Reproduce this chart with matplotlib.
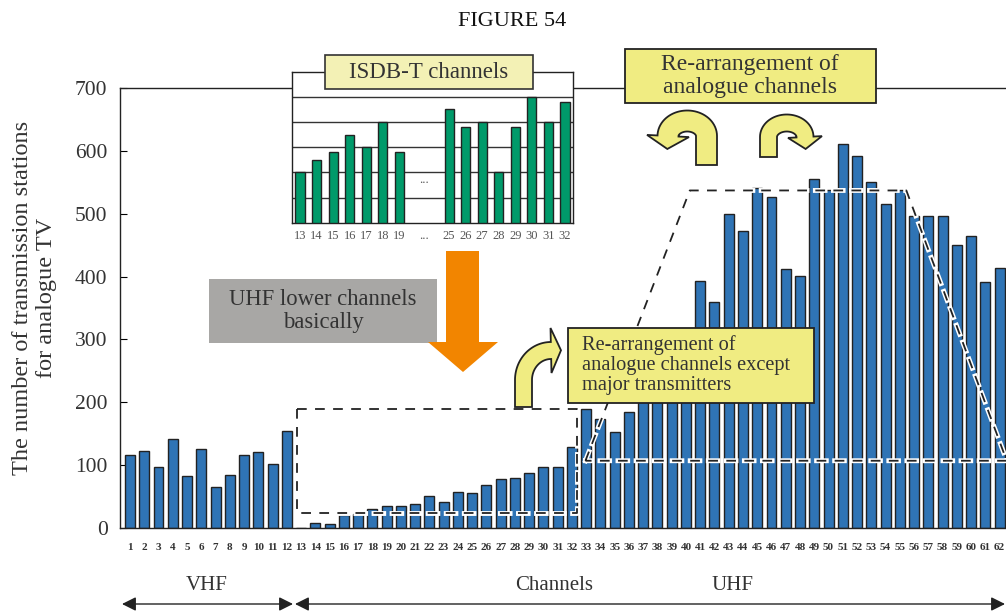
import numpy as np
import matplotlib
matplotlib.use('Agg')
import matplotlib.pyplot as plt
from matplotlib.patches import Rectangle, Polygon, FancyArrowPatch

plt.rcParams['font.family'] = ['Liberation Serif', 'DejaVu Serif']
plt.rcParams['lines.scale_dashes'] = False

W, H = 1006, 611

# number of analogue TV transmitting stations per channel
channels = np.arange(1, 63)
stations = [116, 123, 97, 142, 83, 126, 66, 85, 116, 121, 102, 155,
            0, 8, 6, 21, 23, 31, 35, 35, 38, 51, 42, 57, 55, 69, 78, 80,
            88, 97, 97, 129, 190, 173, 153, 185, 240, 300, 250, 280,
            393, 360, 500, 472, 541, 527, 412, 401, 556, 538, 611, 592,
            551, 515, 537, 496, 496, 496, 451, 464, 391, 413]

# ISDB-T channel allocation (inset)
isdb_labels = ['13', '14', '15', '16', '17', '18', '19',
               '25', '26', '27', '28', '29', '30', '31', '32']
isdb_pos = [0, 1, 2, 3, 4, 5, 6, 9, 10, 11, 12, 13, 14, 15, 16]
isdb_height = [2.0, 2.5, 2.8, 3.5, 3.0, 4.0, 2.8,
               4.5, 3.8, 4.0, 2.0, 3.8, 5.0, 4.0, 4.8]

# dashed outlines (channel, stations)
lower_x = [12.7, 32.35, 32.35, 12.7, 12.7]
lower_y = [190, 190, 24, 24, 190]
upper_x = [32.95, 40.27, 55.46, 62.5, 32.95]
upper_y = [107, 537, 537, 107, 107]

BLUE = '#2f74b5'
GREEN = '#009a6a'
YELLOW = '#f0ec82'
TXT = '#333333'


def px(x, y):
    return (x / W, 1 - y / H)


fig = plt.figure(figsize=(W / 100, H / 100), dpi=100)

ax = fig.add_axes([120 / W, 1 - 528 / H, (W - 120) / W, 440 / H])
ax.bar(channels, stations, width=0.7, color=BLUE, edgecolor='#222222',
       linewidth=1.0, zorder=2)
ax.set_xlim(0.3, 62.45)
ax.set_ylim(0, 700)
ax.spines['right'].set_visible(False)
for s in ['left', 'bottom', 'top']:
    ax.spines[s].set_color('#222222')
    ax.spines[s].set_linewidth(1.0)
ax.set_yticks(np.arange(0, 701, 100))
ax.tick_params(axis='y', direction='in', length=5, labelsize=15.5,
               pad=9, labelcolor=TXT)
ax.set_xticks(channels)
ax.set_xticklabels([str(c) for c in channels], fontsize=8, fontweight='bold',
                   color=TXT)
ax.tick_params(axis='x', length=0, pad=11)

for xs, ys in [(lower_x, lower_y), (upper_x, upper_y)]:
    ax.plot(xs, ys, color='white', lw=3.5, dashes=(7, 6),
            dash_capstyle='projecting', zorder=3)
    ax.plot(xs, ys, color='#222222', lw=1.3, dashes=(7, 6),
            dash_capstyle='butt', zorder=4)

# inset with ISDB-T channels
iax = fig.add_axes([291.7 / W, 1 - 222.7 / H, (573.3 - 291.7) / W, 151 / H])
iax.bar(isdb_pos, isdb_height, width=0.55, color=GREEN, edgecolor='#222222',
        linewidth=1.0, zorder=3)
iax.set_xlim(-0.5, 16.5)
iax.set_ylim(0, 6)
iax.set_yticks(range(1, 6))
iax.set_yticklabels([])
iax.yaxis.grid(True, color='#333333', lw=1.0)
iax.set_xticks(isdb_pos + [7.5])
iax.set_xticklabels(isdb_labels + ['...'], fontsize=9, color='#555555')
iax.tick_params(length=0, pad=5)
iax.text(7.5, 1.7, '...', ha='center', va='center', fontsize=9,
         color='#555555')
for s in iax.spines.values():
    s.set_color('#222222')
    s.set_linewidth(1.0)

# labels
fig.text(512 / W, 1 - 22 / H, 'FIGURE 54', ha='center', va='center',
         fontsize=16, color='#111111')
fig.text(34.5 / W, 1 - 298 / H,
         'The number of transmission stations\nfor analogue TV',
         rotation=90, ha='center', va='center', fontsize=17.5,
         linespacing=1.2, color=TXT)
fig.text(207 / W, 1 - 585 / H, 'VHF', ha='center', va='center',
         fontsize=15, color=TXT)
fig.text(554 / W, 1 - 585 / H, 'Channels', ha='center', va='center',
         fontsize=15, color=TXT)
fig.text(732 / W, 1 - 585 / H, 'UHF', ha='center', va='center',
         fontsize=15, color=TXT)

for x0, x1 in [(122, 293), (295, 1005)]:
    fig.add_artist(FancyArrowPatch(px(x0, 604), px(x1, 604),
                                   arrowstyle='<|-|>,head_length=0.6,head_width=0.3',
                                   mutation_scale=14, lw=1.0, color='#222222',
                                   shrinkA=0, shrinkB=0,
                                   transform=fig.transFigure))


def box(x0, y0, x1, y1, **kw):
    fig.add_artist(Rectangle(px(x0, y1), (x1 - x0) / W, (y1 - y0) / H,
                             transform=fig.transFigure, **kw))


def thick_arrow(pts, width, head_half, head_len, **kw):
    pts = np.asarray(pts, float)
    d = np.gradient(pts, axis=0)
    d /= np.linalg.norm(d, axis=1)[:, None]
    n = np.column_stack([-d[:, 1], d[:, 0]])
    left = pts + n * width / 2
    right = pts - n * width / 2
    end, t, nn = pts[-1], d[-1], n[-1]
    head = [end + nn * head_half, end + t * head_len, end - nn * head_half]
    outline = np.vstack([left, head, right[::-1]])
    xy = np.column_stack([outline[:, 0] / W, 1 - outline[:, 1] / H])
    fig.add_artist(Polygon(xy, closed=True, transform=fig.transFigure, **kw))


def stem_arc(x, y_bottom, cx, cy, a, b, th0, th1, n=40):
    ys = np.linspace(y_bottom, cy, 6)[:-1]
    stem = np.column_stack([np.full(len(ys), x), ys])
    th = np.radians(np.linspace(th0, th1, n))
    arc = np.column_stack([cx + a * np.cos(th), cy - b * np.sin(th)])
    return np.vstack([stem, arc])


arrow_kw = dict(facecolor=YELLOW, edgecolor='#222222', lw=1.3)

# ISDB-T title box
box(325, 55, 533, 89, facecolor='#f3f1b5', edgecolor='#333333', lw=1.2)
fig.text(429 / W, 1 - 72 / H, 'ISDB-T channels', ha='center', va='center',
         fontsize=16.5, color=TXT)

# grey note and orange arrow
box(209, 279, 437, 343, facecolor='#a8a7a5', edgecolor='none')
fig.text(323 / W, 1 - 311 / H, 'UHF lower channels\nbasically',
         ha='center', va='center', fontsize=16.3, linespacing=1.1, color=TXT)
orange = [(446, 251), (479, 251), (479, 342), (498, 342), (463, 372),
          (428, 342), (446, 342)]
fig.add_artist(Polygon([px(x, y) for x, y in orange], closed=True,
                       transform=fig.transFigure, facecolor='#f28500',
                       edgecolor='none'))

# re-arrangement notes
box(568, 328, 814, 403, facecolor=YELLOW, edgecolor='#222222', lw=1.3)
fig.text(582 / W, 1 - 365 / H,
         'Re-arrangement of\nanalogue channels except\nmajor transmitters',
         ha='left', va='center', fontsize=14.7, linespacing=1.05, color=TXT)
box(625, 49, 876, 103, facecolor=YELLOW, edgecolor='#222222', lw=1.3)
fig.text(750 / W, 1 - 76 / H, 'Re-arrangement of\nanalogue channels',
         ha='center', va='center', fontsize=17, linespacing=1.08, color=TXT)

# curved arrows
thick_arrow(stem_arc(523.5, 407, 551, 380, 27.5, 29.5, 180, 90),
            17, 22.5, 10, **arrow_kw)
thick_arrow(stem_arc(706.5, 165, 687.25, 136, 19.25, 15, 0, 180),
            21, 21, 13, **arrow_kw)
thick_arrow(stem_arc(768.5, 157, 786.75, 137, 18.25, 14, 180, 0),
            17, 17, 12, **arrow_kw)

fig.savefig('out.png', dpi=100)
